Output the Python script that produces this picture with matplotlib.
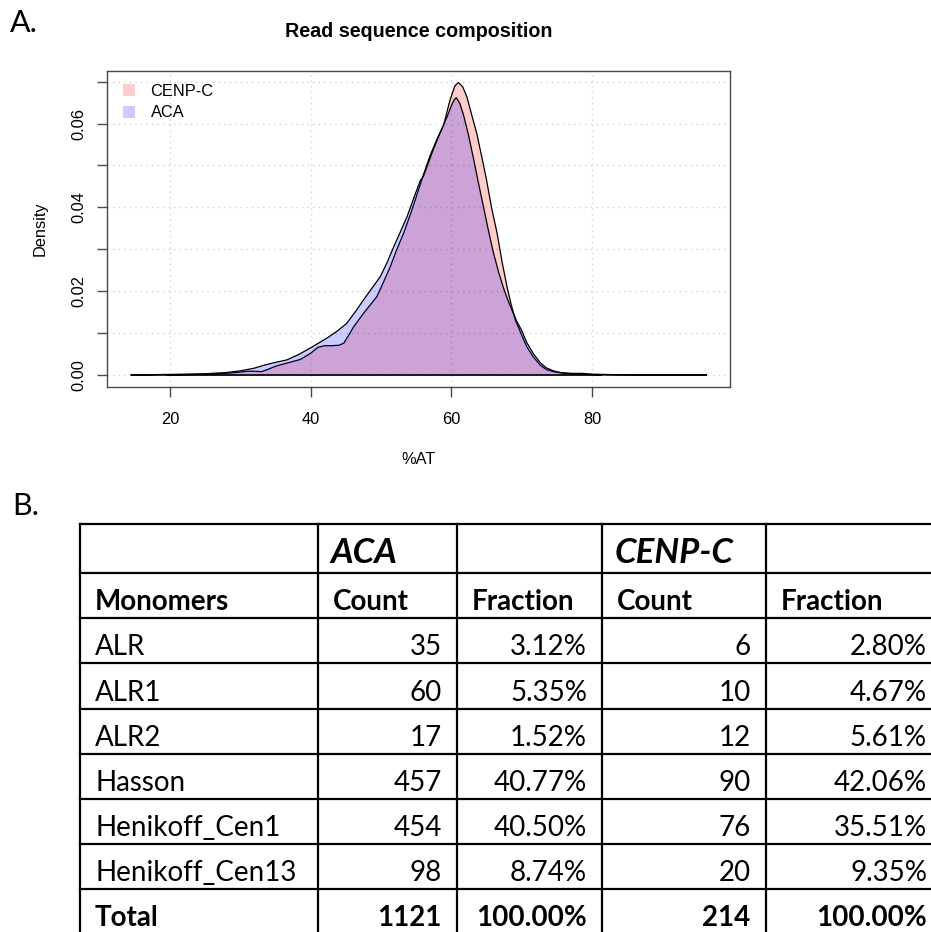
import numpy as np
import matplotlib
matplotlib.use("Agg")
import matplotlib.pyplot as plt
from matplotlib.patches import Patch

# ---------------- data: density curves ----------------
cenpc_x = [19.4, 22, 25, 28, 30, 31, 32, 33, 34, 35, 36.5, 38.5, 40, 41, 42, 43, 44,
           44.7, 45.4, 46.1, 47.5, 48.5, 49.4, 50.3, 51.3, 52.2, 53.2, 54.2, 55.0,
           56.0, 57.0, 57.9, 58.9, 59.8, 60.5, 61.0, 61.6, 62.2, 62.9, 63.6, 64.3,
           65.0, 65.7, 66.5, 67.2, 67.9, 68.5, 69.1, 70.0, 70.7, 71.6, 72.6, 73.5,
           74.5, 76.0, 77.3, 79.0, 81.4]
cenpc_y = [0.0, 0.0001, 0.0002, 0.0004, 0.0007, 0.0009, 0.0009, 0.0008, 0.0014,
           0.0021, 0.0028, 0.0037, 0.0052, 0.0066, 0.0070, 0.0070, 0.0071, 0.0076,
           0.0095, 0.0115, 0.0147, 0.0168, 0.0187, 0.0220, 0.0258, 0.0298, 0.0338,
           0.0385, 0.0425, 0.0477, 0.0525, 0.0561, 0.0597, 0.0656, 0.0690, 0.0698,
           0.0688, 0.0664, 0.0620, 0.0577, 0.0522, 0.0465, 0.0400, 0.0338, 0.0270,
           0.0211, 0.0168, 0.0131, 0.0095, 0.0068, 0.0044, 0.0024, 0.0013, 0.0008,
           0.0004, 0.0003, 0.0002, 0.0]

aca_x = [14.4, 18, 22, 25, 28, 30, 31.9, 33.5, 34.7, 36.6, 38.3, 39.9, 41.0, 42.3,
         43.7, 45.1, 46.3, 47.5, 48.7, 49.9, 50.9, 51.8, 52.7, 53.7, 54.6, 55.6,
         56.0, 57.4, 58.4, 59.4, 60.0, 60.4, 60.7, 61.2, 61.7, 62.4, 63.1, 63.8,
         64.6, 65.3, 66.0, 66.7, 67.4, 68.0, 68.6, 69.3, 70.0, 70.7, 71.6, 72.6,
         73.5, 74.5, 75.5, 77.0, 78.5, 80.0, 83.0, 90.0, 96.3]
aca_y = [0.0, 0.0001, 0.0002, 0.0003, 0.0006, 0.0010, 0.0016, 0.0024, 0.0029,
         0.0036, 0.0049, 0.0064, 0.0075, 0.0088, 0.0104, 0.0123, 0.0150, 0.0179,
         0.0207, 0.0235, 0.0270, 0.0306, 0.0340, 0.0378, 0.0420, 0.0465, 0.0473,
         0.0537, 0.0578, 0.0617, 0.0643, 0.0657, 0.0662, 0.0648, 0.0622, 0.0575,
         0.0520, 0.0462, 0.0398, 0.0342, 0.0290, 0.0246, 0.0208, 0.0180, 0.0155,
         0.0128, 0.0106, 0.0078, 0.0052, 0.0030, 0.0017, 0.0010, 0.0006, 0.0004,
         0.0004, 0.0002, 0.0001, 0.00003, 0.0]

series_names = ["CENP-C", "ACA"]
x_ticks = [20, 40, 60, 80]
y_ticks = [0.00, 0.01, 0.02, 0.03, 0.04, 0.05, 0.06, 0.07]
y_tick_labels = ["0.00", "", "0.02", "", "0.04", "", "0.06", ""]

# ---------------- data: table ----------------
monomers = ["ALR", "ALR1", "ALR2", "Hasson", "Henikoff_Cen1", "Henikoff_Cen13"]
aca_count = [35, 60, 17, 457, 454, 98]
aca_fraction = [3.12, 5.35, 1.52, 40.77, 40.50, 8.74]
cenpc_count = [6, 10, 12, 90, 76, 20]
cenpc_fraction = [2.80, 4.67, 5.61, 42.06, 35.51, 9.35]
aca_total = 1121
cenpc_total = 214
fraction_total = 100.00
header_groups = ["", "ACA", "", "CENP-C", ""]
header_cols = ["Monomers", "Count", "Fraction", "Count", "Fraction"]

# ---------------- figure ----------------
W, H = 931, 932
fig = plt.figure(figsize=(W / 100, H / 100), dpi=100)

def fx(px):
    return px / W

def fy(py):
    return 1 - py / H

R_FONT = "Liberation Sans"
T_FONT = "Lato"
RS = 11.8

# plot panel
L, R, T, B = 107.3, 730.0, 71.0, 387.0
ax = fig.add_axes([fx(L), fy(B), (R - L) / W, (B - T) / H])
ax.set_xlim(11.09, 99.6)
ax.set_ylim(-0.00286, 0.07255)

for v in x_ticks:
    ax.axvline(v, color="#d3d3d3", lw=1.0, ls=(0, (1, 3)), zorder=0)
for v in y_ticks:
    ax.axhline(v, color="#d3d3d3", lw=1.0, ls=(0, (1, 3)), zorder=0)

pink = (1, 0, 0, 0.2)
blue = (0, 0, 1, 0.2)
ax.fill(cenpc_x, cenpc_y, facecolor=pink, edgecolor="black", lw=0.9, zorder=2)
ax.fill(aca_x, aca_y, facecolor=blue, edgecolor="black", lw=0.9, zorder=3)

for s in ax.spines.values():
    s.set_color("#4a4a4a")
    s.set_linewidth(1.0)
ax.set_xticks(x_ticks)
ax.set_xticklabels([str(v) for v in x_ticks], fontfamily=R_FONT, fontsize=RS)
ax.set_yticks(y_ticks)
ax.set_yticklabels(y_tick_labels, fontfamily=R_FONT, fontsize=RS,
                   rotation=90, va="center")
ax.tick_params(axis="x", length=7.2, width=1.0, color="#4a4a4a", pad=10.5)
ax.tick_params(axis="y", length=7.2, width=1.0, color="#4a4a4a", pad=8.0)

ax.set_xlabel("%AT", fontfamily=R_FONT, fontsize=RS, va="center")
ax.xaxis.set_label_coords(0.5, (B - 459) / (B - T))
ax.set_ylabel("Density", fontfamily=R_FONT, fontsize=RS, va="center")
ax.yaxis.set_label_coords((40 - L) / (R - L), 0.5)

handles = [Patch(facecolor=pink, edgecolor="none"),
           Patch(facecolor=blue, edgecolor="none")]
ax.legend(handles, series_names, loc="upper left",
          bbox_to_anchor=((122.7 - L) / (R - L), (B - 84) / (B - T)),
          frameon=False, borderpad=0, borderaxespad=0,
          handlelength=0.75, handleheight=0.75, handletextpad=0.95,
          labelspacing=0.38, prop={"family": R_FONT, "size": RS})

fig.text(fx(418.6), fy(31.7), "Read sequence composition", ha="center",
         va="center", fontfamily=R_FONT, fontweight="bold", fontsize=14.2)

# panel labels
fig.text(fx(10), fy(31.5), "A.", ha="left", va="baseline",
         fontfamily=T_FONT, fontsize=22)
fig.text(fx(12), fy(515), "B.", ha="left", va="baseline",
         fontfamily=T_FONT, fontsize=22)

# ---------------- table ----------------
tax = fig.add_axes([0, 0, 1, 1], zorder=-1)
tax.set_xlim(0, W)
tax.set_ylim(H, 0)
tax.axis("off")

col_x = [80, 317.5, 457, 602, 765.5, 942]
row_y = [524, 573.3, 618.3, 663.3, 708.7, 754, 799.3, 844, 889.3, 934.5]

for yv in row_y:
    tax.plot([col_x[0], col_x[-1]], [yv, yv], color="black", lw=1.6,
             solid_capstyle="projecting")
for xv in col_x:
    tax.plot([xv, xv], [row_y[0], row_y[-1]], color="black", lw=1.6,
             solid_capstyle="projecting")

PAD = 15
BODY = 20

# group header row
for i, g in enumerate(header_groups):
    if g:
        tax.text(col_x[i] + 13, row_y[1] - 10, g, ha="left", va="baseline",
                 fontfamily=T_FONT, fontweight="bold", fontstyle="italic",
                 fontsize=25)
# column header row
for i, h in enumerate(header_cols):
    tax.text(col_x[i] + PAD, row_y[2] - 8, h, ha="left", va="baseline",
             fontfamily=T_FONT, fontweight="bold", fontsize=BODY)

# body rows
for r, name in enumerate(monomers):
    yb = row_y[r + 3] - 8
    vals = [str(aca_count[r]), f"{aca_fraction[r]:.2f}%",
            str(cenpc_count[r]), f"{cenpc_fraction[r]:.2f}%"]
    tax.text(col_x[0] + PAD, yb, name, ha="left", va="baseline",
             fontfamily=T_FONT, fontsize=BODY)
    for c, v in enumerate(vals):
        tax.text(col_x[c + 2] - PAD, yb, v, ha="right", va="baseline",
                 fontfamily=T_FONT, fontsize=BODY)

# total row
yb = row_y[-1] - 8
tot_vals = [str(aca_total), f"{fraction_total:.2f}%",
            str(cenpc_total), f"{fraction_total:.2f}%"]
tax.text(col_x[0] + PAD, yb, "Total", ha="left", va="baseline",
         fontfamily=T_FONT, fontweight="bold", fontsize=BODY)
for c, v in enumerate(tot_vals):
    tax.text(col_x[c + 2] - PAD, yb, v, ha="right", va="baseline",
             fontfamily=T_FONT, fontweight="bold", fontsize=BODY)

fig.savefig("out.png", dpi=100)
